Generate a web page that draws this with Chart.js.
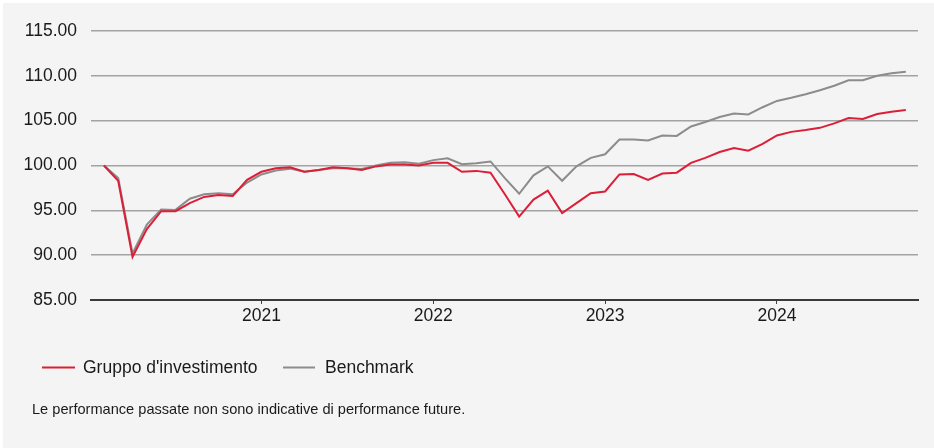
<!DOCTYPE html>
<html>
<head>
<meta charset="utf-8">
<script src="https://cdn.jsdelivr.net/npm/chart.js@4"></script>
<style>
  html, body { margin: 0; padding: 0; background: #ffffff; }
  #wrap { position: relative; width: 934px; height: 448px; }
  canvas { display: block; }
</style>
</head>
<body>
<div id="wrap"><canvas id="c" width="934" height="448"></canvas></div>
<script>
// Monthly observations, Feb 2020 – Oct 2024
const months = [
  '2020-02','2020-03','2020-04','2020-05','2020-06','2020-07','2020-08','2020-09','2020-10','2020-11','2020-12',
  '2021-01','2021-02','2021-03','2021-04','2021-05','2021-06','2021-07','2021-08','2021-09','2021-10','2021-11','2021-12',
  '2022-01','2022-02','2022-03','2022-04','2022-05','2022-06','2022-07','2022-08','2022-09','2022-10','2022-11','2022-12',
  '2023-01','2023-02','2023-03','2023-04','2023-05','2023-06','2023-07','2023-08','2023-09','2023-10','2023-11','2023-12',
  '2024-01','2024-02','2024-03','2024-04','2024-05','2024-06','2024-07','2024-08','2024-09','2024-10'
];
const gruppo = [
  100.0, 98.3, 89.8, 92.9, 94.9, 94.9, 95.8, 96.5, 96.7, 96.6, 98.4,
  99.3, 99.7, 99.8, 99.3, 99.5, 99.8, 99.7, 99.5, 99.9, 100.1, 100.1, 100.0,
  100.3, 100.3, 99.3, 99.4, 99.2, 96.8, 94.3, 96.2, 97.2, 94.7, 95.8, 96.9,
  97.1, 99.0, 99.05, 98.4, 99.1, 99.2, 100.3, 100.85, 101.5, 101.95, 101.65, 102.4,
  103.35, 103.75, 103.95, 104.2, 104.7, 105.3, 105.2, 105.75, 106.0, 106.2
];
const benchmark = [
  100.0, 98.6, 90.2, 93.4, 95.1, 95.05, 96.3, 96.8, 96.9, 96.8, 98.1,
  99.0, 99.45, 99.65, 99.3, 99.5, 99.7, 99.7, 99.6, 100.0, 100.3, 100.35, 100.2,
  100.6, 100.8, 100.15, 100.25, 100.45, 98.6, 96.85, 98.9, 99.9, 98.3, 99.9, 100.85,
  101.25, 102.9, 102.9, 102.8, 103.35, 103.3, 104.35, 104.85, 105.4, 105.8, 105.7, 106.5,
  107.2, 107.55, 107.95, 108.4, 108.9, 109.5, 109.5, 110.0, 110.3, 110.45
];
const yearTicks = ['2021', '2022', '2023', '2024'];
const seriesNames = ["Gruppo d'investimento", 'Benchmark'];
const seriesColors = ['#dc1f38', '#8c8c8c'];
const footnote = 'Le performance passate non sono indicative di performance future.';

const FONT = '"Liberation Sans", Arial, sans-serif';
const tickIndex = yearTicks.map(y => months.indexOf(y + '-01'));

const bgPlugin = {
  id: 'bg',
  beforeDraw(chart) {
    const ctx = chart.ctx;
    ctx.save();
    ctx.fillStyle = '#ffffff';
    ctx.fillRect(0, 0, chart.width, chart.height);
    ctx.fillStyle = '#f4f4f4';
    ctx.fillRect(3, 3, chart.width - 3, chart.height - 3);
    ctx.restore();
  }
};

const legendPlugin = {
  id: 'customLegend',
  afterDraw(chart) {
    const ctx = chart.ctx;
    ctx.save();
    const y = 367.5;
    const items = [{ x0: 42, x1: 75, tx: 83 }, { x0: 283, x1: 315, tx: 325 }];
    chart.data.datasets.forEach((ds, i) => {
      const it = items[i];
      ctx.strokeStyle = ds.borderColor;
      ctx.lineWidth = 2;
      ctx.beginPath();
      ctx.moveTo(it.x0, y);
      ctx.lineTo(it.x1, y);
      ctx.stroke();
      ctx.fillStyle = '#1a1a1a';
      ctx.font = '17.5px ' + FONT;
      ctx.textBaseline = 'middle';
      ctx.textAlign = 'left';
      ctx.fillText(ds.label, it.tx, y + 0.5);
    });
    ctx.font = '14.6px ' + FONT;
    ctx.fillStyle = '#1a1a1a';
    ctx.textBaseline = 'middle';
    ctx.fillText(footnote, 32, 410);
    ctx.restore();
  }
};

new Chart(document.getElementById('c'), {
  type: 'line',
  data: {
    datasets: [
      {
        label: seriesNames[0],
        data: months.map((m, i) => ({ x: i, y: gruppo[i] })),
        borderColor: seriesColors[0],
        borderWidth: 2,
        pointRadius: 0,
        tension: 0,
        fill: false
      },
      {
        label: seriesNames[1],
        data: months.map((m, i) => ({ x: i, y: benchmark[i] })),
        borderColor: seriesColors[1],
        borderWidth: 2,
        pointRadius: 0,
        tension: 0,
        fill: false
      }
    ]
  },
  options: {
    responsive: false,
    animation: false,
    devicePixelRatio: 1,
    layout: { padding: { top: 31, right: 16, left: 0, bottom: 0 } },
    plugins: {
      legend: { display: false },
      tooltip: { enabled: false }
    },
    scales: {
      x: {
        type: 'linear',
        min: -0.9,
        max: months.length - 1 + 0.85,
        afterBuildTicks(scale) {
          scale.ticks = tickIndex.map(v => ({ value: v }));
        },
        afterFit(scale) { scale.height = 148; },
        ticks: {
          autoSkip: false,
          maxRotation: 0,
          padding: 2,
          color: '#1a1a1a',
          font: { family: FONT, size: 17.5 },
          callback(value) {
            const k = tickIndex.indexOf(value);
            return k >= 0 ? yearTicks[k] : '';
          }
        },
        grid: {
          drawOnChartArea: false,
          drawTicks: true,
          tickLength: 4,
          color: '#404040',
          lineWidth: 1
        },
        border: { display: true, color: '#3a3a3a', width: 2 }
      },
      y: {
        min: 85,
        max: 115,
        afterFit(scale) { scale.width = 91; },
        ticks: {
          stepSize: 5,
          padding: 14,
          color: '#1a1a1a',
          font: { family: FONT, size: 17.5 },
          callback(value) { return Number(value).toFixed(2); }
        },
        grid: {
          drawTicks: false,
          color: '#a3a3a3',
          lineWidth: 1.5
        },
        border: { display: false }
      }
    }
  },
  plugins: [bgPlugin, legendPlugin]
});
</script>
</body>
</html>
